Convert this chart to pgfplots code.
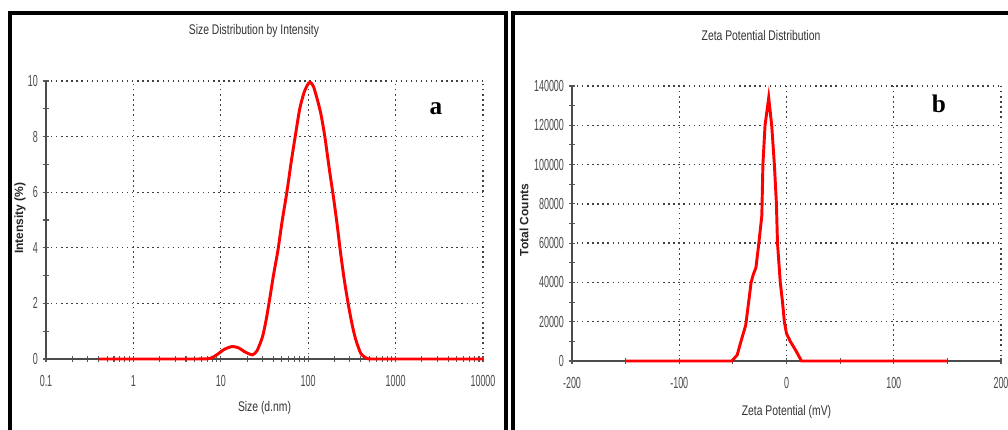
\documentclass[border=0pt]{standalone}
\usepackage{fontspec}
\setmainfont[FakeStretch=0.74]{Liberation Sans}
\newfontfamily\tickfont[FakeStretch=0.56]{Liberation Sans}
\newfontfamily\labelfont{Liberation Sans}
\newfontfamily\letterfont{Liberation Serif}
\usepackage{pgfplots}
\pgfplotsset{compat=1.18}
\pgfplotsset{zstyle/.style={
  scale only axis, axis lines=left,
  axis line style={-, black!70, line width=1.1pt},
  tick align=center, major tick length=5pt, minor tick length=4pt,
  every tick/.style={black!65, line width=0.8pt},
  grid=major,
  major grid style={black!75, line width=1pt, dash pattern=on 1pt off 2.8pt},
  ticklabel style={font=\tickfont\fontsize{12}{14}\selectfont, text=black!70},
  /pgf/number format/assume math mode=true,
  xlabel style={font=\fontsize{10.5}{12}\selectfont, text=black!80, anchor=center},
  ylabel style={font=\labelfont\bfseries\fontsize{9}{11}\selectfont, text=black!85, anchor=center},
  clip=false,
}}
\begin{document}
\begin{tikzpicture}
\useasboundingbox (0,0) rectangle (756pt,321.75pt);
\fill[white] (0,0) rectangle (756pt,321.75pt);
% panel frames
\draw[line width=2.4pt] (7.5pt,-10pt) -- (7.5pt,312pt) -- (379.5pt,312pt) -- (379.5pt,-10pt);
\draw[line width=2.4pt] (384.75pt,-10pt) -- (384.75pt,312pt) -- (770pt,312pt);
% titles
\node[font=\fontsize{10.5}{12}\selectfont, text=black!80] at (190.5pt,298.5pt) {Size Distribution by Intensity};
\node[font=\fontsize{10.5}{12}\selectfont, text=black!80] at (570.75pt,295.5pt) {Zeta Potential Distribution};

\begin{axis}[zstyle,
  at={(34.5pt,52.5pt)}, anchor=south west,
  width=327.75pt, height=208.5pt,
  xmode=log, xmin=0.1, xmax=10000, ymin=0, ymax=10,
  xtick={0.1,1,10,100,1000,10000},
  xticklabels={0.1,1,10,100,1000,10000},
  ytick={0,2,4,6,8,10}, minor ytick={1,3,5,7,9},
  xticklabel style={yshift=-6pt},
  xlabel={Size (d.nm)},
  ylabel={Intensity (\%)},
  xlabel style={at={(axis description cs:0.5,0)}, yshift=-36.75pt},
  ylabel style={at={(axis description cs:0,0.507)}, yshift=19.5pt},
]
\addplot[red, line width=2.2pt, smooth, tension=0.4] coordinates {
(0.4,0) (1,0) (5,0) (7.5,0.02) (9,0.15) (11,0.35) (13.5,0.45) (16,0.4) (19,0.25)
(23,0.15) (26,0.3) (30,0.8) (33,1.4) (36,2.1) (40,3.0) (45,3.9) (50,4.9) (57,6.0)
(64,7.1) (71,8.0) (80,9.0) (90,9.6) (100,9.9) (106,9.95) (115,9.8) (128,9.3)
(140,8.8) (155,8.0) (175,6.8) (195,5.8) (215,4.8) (235,3.8) (260,2.8) (290,1.9)
(320,1.2) (350,0.7) (400,0.2) (470,0.02) (550,0) (1000,0) (10000,0)
};
\node[font=\letterfont\bfseries\fontsize{19}{22}\selectfont] at (axis cs:2900,9.0) {a};
\end{axis}

\begin{axis}[zstyle,
  at={(429pt,51pt)}, anchor=south west,
  width=321.75pt, height=206.25pt,
  xmin=-200, xmax=200, ymin=0, ymax=140000,
  xtick={-200,-100,0,100,200}, minor xtick={-150,-50,50,150},
  ytick={0,20000,40000,60000,80000,100000,120000,140000},
  minor ytick={10000,30000,50000,70000,90000,110000,130000},
  scaled y ticks=false,
  yticklabel style={/pgf/number format/.cd, fixed, 1000 sep={}},
  xticklabel style={yshift=-6pt},
  xlabel={Zeta Potential (mV)},
  ylabel={Total Counts},
  xlabel style={at={(axis description cs:0.5,0)}, yshift=-38pt},
  ylabel style={at={(axis description cs:0,0.513)}, yshift=36pt},
]
\addplot[red, line width=2.2pt] coordinates {
(-150,0) (-100,0) (-60,0) (-51,0) (-46,3000) (-42.6,9700) (-38,18300) (-33,40000)
(-31,44000) (-28.5,47500) (-26,59000) (-23,74000) (-22,100000) (-20,120000)
(-16.6,134000) (-13.8,120000) (-11.3,100000) (-9.4,80000) (-8.4,60000)
(-5.8,40000) (-3.7,30000) (-2,20000) (0,14000) (3.5,10000) (8,6000) (14,0)
(50,0) (150,0)
};
\node[font=\letterfont\bfseries\fontsize{19}{22}\selectfont] at (axis cs:142,131000) {b};
\end{axis}
\end{tikzpicture}
\end{document}
